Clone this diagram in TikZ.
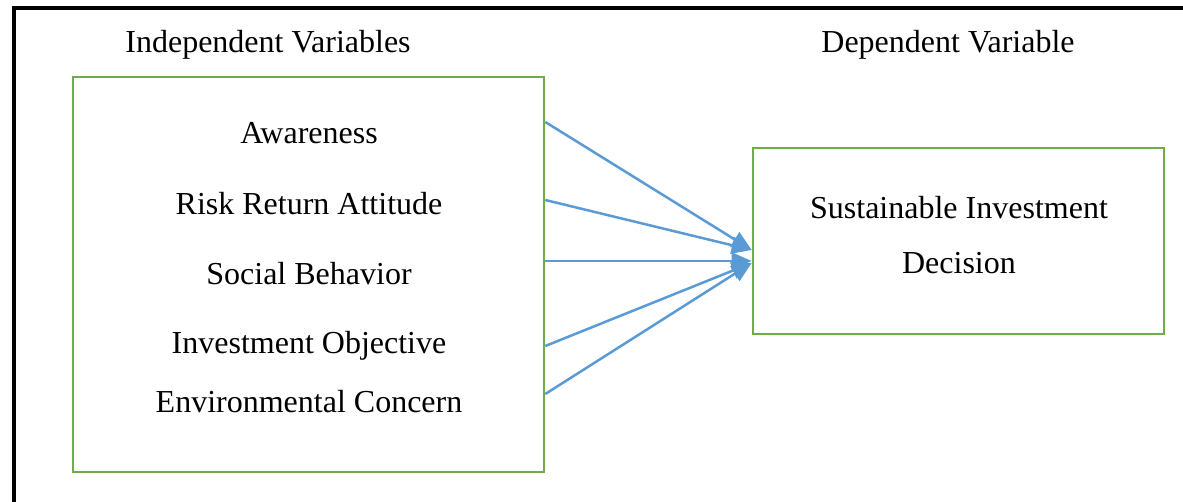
\documentclass[tikz,border=0pt]{standalone}
\usepackage{fontspec}
\setmainfont{Liberation Serif}
\usetikzlibrary{arrows.meta}
\begin{document}
\begin{tikzpicture}[x=1pt,y=-1pt,
  gbox/.style={draw=boxgreen,line width=2.6pt,inner sep=0pt},
  lbl/.style={font=\fontsize{32}{36}\selectfont,inner sep=0pt,anchor=center},
  arr/.style={draw=arrblue,line width=2.5pt,-{Triangle[length=20pt,width=17pt]}}]
\definecolor{boxgreen}{HTML}{70AD47}
\definecolor{arrblue}{HTML}{5B9BD5}
\useasboundingbox (0,0) rectangle (1183,502);
\fill[white] (0,0) rectangle (1183,502);
\draw[line width=3.5pt] (14,502) -- (14,8) -- (1183,8);
\node[gbox,minimum width=471pt,minimum height=395pt] (L) at (308.5,274.5) {};
\node[gbox,minimum width=411pt,minimum height=186pt] (R) at (958.5,241) {};
\node[lbl] (iv) at (268,45) {Independent Variables};
\node[lbl] (dv) at (948,45) {Dependent Variable};
\node[lbl] (a1) at (309,133) {Awareness};
\node[lbl] (a2) at (309,204) {Risk Return Attitude};
\node[lbl] (a3) at (309,274) {Social Behavior};
\node[lbl] (a4) at (309,346) {Investment Objective};
\node[lbl] (a5) at (309,402) {Environmental Concern};
\node[lbl,align=center,font=\fontsize{32}{55}\selectfont] (dec) at (959,235) {Sustainable Investment\\Decision};
\coordinate (s1) at (L.east |- 0,122);
\coordinate (s2) at (L.east |- 0,200);
\coordinate (s3) at (L.east |- 0,261);
\coordinate (s4) at (L.east |- 0,346);
\coordinate (s5) at (L.east |- 0,394);
\coordinate (e1) at (R.west |- 0,250);
\coordinate (e3) at (R.west |- 0,261);
\coordinate (e4) at (R.west |- 0,263);
\draw[arr] (s1) -- (e1);
\draw[arr] (s2) -- (e1);
\draw[arr] (s3) -- (e3);
\draw[arr] (s4) -- (e4);
\draw[arr] (s5) -- (e4);
\end{tikzpicture}
\end{document}
